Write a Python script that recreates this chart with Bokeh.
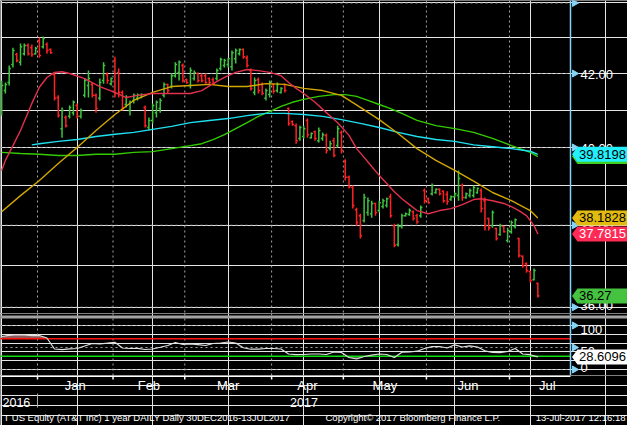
import numpy as np
from bokeh.plotting import figure
from bokeh.models import Range1d, Span, BoxAnnotation, ColumnDataSource
from bokeh.layouts import column
from bokeh.embed import file_html
from bokeh.resources import INLINE
from bokeh.core.properties import value

# ---------------- data (daily bars, index 0 = mid Dec 2016, 142 = 13 Jul 2017) ----------------
opens = [40.99, 41.53, 41.75, 42.25, 42.53, 42.31, 42.55, 42.78, 42.72, 42.55,
         42.92, 42.75, 42.81, 42.67, 41.97, 41.34, 40.50, 40.80, 40.83, 40.93,
         41.12, 40.83, 41.40, 41.67, 41.70, 41.40, 41.32, 41.81, 41.97, 41.72,
         42.36, 42.03, 41.48, 41.15, 40.99, 41.26, 41.32, 41.34, 41.07, 40.53,
         40.72, 40.93, 41.04, 41.40, 41.70, 41.64, 41.94, 42.03, 42.22, 41.83,
         41.67, 41.86, 42.00, 41.94, 41.94, 41.86, 41.83, 41.86, 42.14, 42.22,
         42.25, 42.19, 42.41, 42.55, 42.67, 42.44, 42.08, 41.48, 41.83, 41.70,
         41.32, 41.42, 41.70, 41.53, 41.48, 41.70, 41.04, 40.69, 40.58, 40.24,
         40.29, 40.72, 40.26, 40.42, 40.18, 40.24, 40.32, 39.97, 40.18, 40.05,
         40.40, 39.64, 39.22, 38.96, 38.39, 38.24, 38.12, 38.32, 38.29, 38.55,
         38.37, 38.47, 38.50, 38.72, 37.99, 37.52, 37.97, 38.24, 38.27, 38.34,
         38.24, 38.24, 38.88, 38.67, 38.80, 38.83, 38.91, 38.86, 38.78, 38.65,
         38.72, 38.75, 39.01, 38.70, 38.75, 38.75, 38.83, 38.88, 38.62, 38.17,
         37.99, 37.92, 37.77, 37.97, 37.62, 37.84, 37.97, 37.67, 37.23, 37.05,
         36.86, 36.66, 36.57]
highs = [41.81, 41.75, 42.22, 42.72, 42.58, 42.84, 42.84, 42.84, 42.81, 42.75,
         43.01, 43.04, 42.87, 42.70, 42.03, 41.40, 41.07, 40.85, 41.12, 41.26,
         41.18, 41.04, 41.86, 42.08, 41.75, 41.45, 41.86, 42.31, 42.03, 41.89,
         42.47, 42.14, 41.53, 41.40, 41.26, 41.45, 41.45, 41.45, 41.12, 40.80,
         41.18, 41.26, 41.32, 41.75, 41.72, 42.00, 42.31, 42.36, 42.28, 41.86,
         42.17, 42.08, 42.03, 42.00, 42.00, 41.89, 41.89, 42.14, 42.44, 42.41,
         42.44, 42.64, 42.70, 42.70, 42.70, 42.50, 42.14, 41.89, 41.89, 41.75,
         41.59, 41.81, 41.72, 41.75, 41.62, 41.72, 41.07, 40.72, 40.64, 40.58,
         40.58, 40.77, 40.40, 40.45, 40.53, 40.40, 40.37, 40.18, 40.26, 40.58,
         40.45, 39.69, 39.27, 39.01, 38.44, 38.29, 38.80, 38.70, 38.62, 38.57,
         38.62, 38.67, 38.70, 38.80, 38.04, 38.04, 38.29, 38.32, 38.42, 38.37,
         38.29, 38.50, 38.93, 38.70, 39.06, 38.93, 38.93, 38.88, 38.86, 38.75,
         38.83, 39.40, 39.06, 38.83, 38.93, 39.01, 38.96, 38.93, 38.70, 38.19,
         38.37, 37.94, 38.04, 37.99, 37.94, 38.12, 38.17, 37.69, 37.25, 37.08,
         36.88, 36.93, 36.59]
lows = [40.85, 41.45, 41.67, 42.17, 42.31, 42.22, 42.50, 42.50, 42.47, 42.53,
        42.44, 42.70, 42.55, 42.55, 41.26, 40.80, 40.26, 40.53, 40.77, 40.85,
        40.77, 40.77, 41.34, 41.34, 41.34, 40.93, 41.26, 41.72, 41.72, 41.67,
        41.34, 41.34, 40.99, 41.07, 40.85, 41.18, 41.26, 41.32, 40.53, 40.45,
        40.64, 40.80, 40.93, 41.34, 41.45, 41.59, 41.89, 41.81, 41.75, 41.72,
        41.59, 41.81, 41.75, 41.75, 41.72, 41.72, 41.70, 41.81, 42.08, 42.17,
        42.17, 42.08, 42.28, 42.50, 42.41, 42.17, 41.53, 41.40, 41.45, 41.40,
        41.26, 41.34, 41.45, 41.48, 41.45, 41.48, 40.58, 40.58, 40.10, 40.18,
        40.24, 40.26, 40.24, 40.18, 40.13, 40.18, 39.84, 39.92, 39.74, 40.00,
        39.84, 39.14, 38.93, 38.42, 37.99, 37.67, 38.07, 38.24, 38.19, 38.24,
        38.32, 38.42, 38.45, 38.19, 37.45, 37.47, 37.92, 38.22, 38.24, 38.12,
        38.04, 38.19, 38.55, 38.55, 38.75, 38.80, 38.75, 38.57, 38.52, 38.62,
        38.70, 38.62, 38.62, 38.67, 38.70, 38.70, 38.80, 38.32, 37.87, 37.87,
        37.94, 37.62, 37.74, 37.82, 37.57, 37.79, 37.92, 37.20, 36.95, 36.83,
        36.59, 36.64, 36.23]
closes = [41.67, 41.70, 42.14, 42.64, 42.36, 42.75, 42.78, 42.55, 42.53, 42.70,
          42.50, 42.98, 42.64, 42.58, 41.32, 40.85, 40.99, 40.58, 41.07, 41.21,
          40.83, 40.99, 41.81, 41.86, 41.40, 41.04, 41.75, 42.22, 41.81, 41.86,
          41.45, 41.48, 41.04, 41.34, 41.21, 41.40, 41.40, 41.42, 40.58, 40.72,
          41.12, 41.21, 41.26, 41.70, 41.53, 41.94, 42.25, 42.31, 41.81, 41.75,
          42.08, 42.03, 41.81, 41.81, 41.75, 41.75, 41.72, 42.08, 42.39, 42.36,
          42.41, 42.58, 42.64, 42.67, 42.47, 42.22, 41.59, 41.81, 41.53, 41.45,
          41.53, 41.75, 41.51, 41.70, 41.59, 41.53, 40.64, 40.61, 40.18, 40.53,
          40.50, 40.34, 40.37, 40.24, 40.45, 40.34, 39.92, 40.10, 39.79, 40.50,
          39.92, 39.22, 38.98, 38.50, 38.07, 37.74, 38.70, 38.62, 38.55, 38.32,
          38.57, 38.62, 38.67, 38.24, 37.50, 37.97, 38.24, 38.29, 38.37, 38.17,
          38.09, 38.45, 38.62, 38.57, 39.01, 38.91, 38.80, 38.62, 38.60, 38.72,
          38.80, 39.19, 38.70, 38.80, 38.88, 38.96, 38.93, 38.42, 37.99, 37.94,
          38.32, 37.67, 37.99, 37.84, 37.87, 38.07, 38.14, 37.25, 37.00, 36.88,
          36.64, 36.88, 36.27]

# moving averages
ma_red_x = [0, 1, 3, 5, 8, 10, 12, 14, 16, 18, 22, 26, 30, 33, 36, 40, 45, 50, 53, 56,
            59, 62, 65, 68, 71, 74, 76, 78, 80, 83, 86, 89, 92, 94, 96, 98, 100, 102, 104, 106,
            108, 110, 113, 116, 119, 122, 125, 127, 130, 133, 135, 137, 139, 141, 142]
ma_red = [39.40, 39.66, 40.05, 40.45, 41.18, 41.62, 41.89, 42.03, 42.05, 42.00,
          41.86, 41.64, 41.48, 41.34, 41.40, 41.45, 41.45, 41.45, 41.53, 41.72,
          41.89, 42.03, 42.11, 42.08, 42.03, 41.94, 41.75, 41.59, 41.45, 41.21,
          40.93, 40.66, 40.32, 39.97, 39.74, 39.50, 39.27, 39.06, 38.85, 38.67,
          38.52, 38.37, 38.29, 38.37, 38.42, 38.52, 38.65, 38.67, 38.62, 38.55,
          38.47, 38.37, 38.24, 37.99, 37.7815]
ma_gold_x = [0, 5, 10, 15, 20, 25, 30, 35, 40, 45, 50, 55, 60, 65, 70, 75, 80, 85, 90, 95,
             100, 105, 110, 115, 120, 125, 130, 135, 140, 142]
ma_gold = [38.34, 38.75, 39.14, 39.58, 40.00, 40.45, 40.88, 41.26, 41.48, 41.64,
           41.67, 41.70, 41.64, 41.64, 41.72, 41.70, 41.59, 41.53, 41.40, 41.07,
           40.74, 40.37, 39.97, 39.66, 39.40, 39.12, 38.83, 38.62, 38.37, 38.1828]
ma_cyan_x = [8, 10, 15, 20, 25, 30, 35, 40, 45, 50, 55, 60, 65, 70, 75, 80, 85, 90, 95, 100,
             105, 110, 115, 120, 125, 130, 135, 140, 142]
ma_cyan = [40.07, 40.10, 40.16, 40.21, 40.29, 40.35, 40.40, 40.48, 40.56, 40.66,
           40.72, 40.77, 40.85, 40.91, 40.91, 40.88, 40.83, 40.74, 40.64, 40.53,
           40.40, 40.29, 40.21, 40.16, 40.07, 40.02, 39.97, 39.90, 39.8198]
ma_green_x = [0, 5, 10, 15, 20, 25, 30, 35, 40, 45, 50, 53, 56, 59, 62, 65, 68, 71, 74, 77,
              80, 84, 88, 91, 94, 97, 100, 103, 106, 110, 115, 120, 125, 130, 135, 140, 142]
ma_green = [39.87, 39.84, 39.82, 39.79, 39.79, 39.82, 39.82, 39.87, 39.89, 39.97,
            40.05, 40.10, 40.21, 40.34, 40.50, 40.66, 40.83, 40.96, 41.10, 41.21,
            41.29, 41.37, 41.42, 41.42, 41.37, 41.26, 41.15, 41.04, 40.91, 40.72,
            40.58, 40.50, 40.40, 40.24, 40.05, 39.87, 39.76]

# RSI (every second session)
rsi_x = list(range(0, 143, 2))
rsi = [75.0, 77.7, 79.1, 78.4, 76.8, 77.3, 71.6, 46.6, 45.0, 46.8,
       47.7, 53.4, 59.1, 58.0, 59.8, 61.8, 48.9, 47.7, 48.2, 45.5,
       46.6, 50.5, 54.5, 61.4, 56.8, 58.0, 56.4, 54.5, 59.1, 60.2,
       62.5, 60.2, 49.5, 46.1, 46.4, 47.7, 47.7, 46.6, 35.2, 33.6,
       34.1, 35.2, 35.2, 34.1, 39.8, 38.6, 27.3, 23.9, 29.5, 32.5,
       35.2, 34.1, 27.3, 39.3, 39.8, 41.6, 47.7, 51.8, 52.3, 48.9,
       56.1, 51.1, 53.9, 51.1, 42.5, 38.6, 38.2, 40.9, 47.7, 35.2,
       33.6, 28.6096]

month_labels = ["Jan", "Feb", "Mar", "Apr", "May", "Jun", "Jul"]
month_starts = [9.5, 29.5, 48.5, 71.5, 90.5, 112.5, 134.5]
month_centers = [19.5, 39.0, 60.0, 81.0, 101.5, 123.5, 144.5]
year_labels = ["2016", "2017"]
price_ticks = [36.0, 38.0, 40.0, 42.0, 44.0]
price_labelled = [38.0, 40.0, 42.0]
rsi_ticks = [100, 50, 0]
rsi_levels = [70, 30]

footer_left = "T US Equity (AT&T Inc) 1 year DAILY  Daily 30DEC2016-13JUL2017"
footer_mid = "Copyright\u00a9 2017 Bloomberg Finance L.P."
footer_right = "13-Jul-2017 12:16:18"

# ---------------- styling / layout ----------------
FONT = "Liberation Sans"
BG = "black"
GRID = "#a4a4a4"
AX_BLUE = "#87d3f5"
BAR_UP, BAR_DN = "#3fc43f", "#ff2222"
C_RED, C_GOLD, C_CYAN, C_GREEN = "#e3304c", "#d2a600", "#1ee0f0", "#33cc00"

W = 627
H_PRICE, H_RSI, H_FOOT = 313, 62, 50
PX = 3.776
X_START = -1.13 / PX
AXIS_X = X_START + 570 / PX
X_END = X_START + W / PX
P_LO, P_HI = 35.851, 44.072
R_LO, R_HI = -13.636, 127.27


def px2x(px):
    return X_START + px / PX


TIP, BODY, TXT, FLAG, LAB = px2x(571.5), px2x(577), px2x(578.5), px2x(574), px2x(580)
xr = Range1d(X_START, X_END)


def base_fig(h, yr, **kw):
    return figure(width=W, height=h, x_range=xr, y_range=yr, x_axis_location=None,
                  y_axis_location=None, toolbar_location=None, output_backend="svg",
                  min_border=0, background_fill_color=BG, border_fill_color=BG,
                  outline_line_color=None, **kw)


def label(f, x, y, txt, size="13px", align="left", color="white", off=0):
    f.text(x=[x], y=[y], text=[txt], text_color=color, text_font=value(FONT),
           text_font_size=size, text_baseline="middle", text_align=align, y_offset=off)


def badge(f, y, top, bot, fill, txt=None, color="black"):
    f.patch(x=[TIP, BODY, X_END + 1, X_END + 1, BODY], y=[y, top, top, bot, bot],
            fill_color=fill, line_color=None)
    if txt:
        label(f, TXT, y, txt, color=color)


# ---------------- price panel ----------------
p = base_fig(H_PRICE, Range1d(P_LO, P_HI), y_axis_type="log")
for b in month_starts:
    p.add_layout(Span(location=b, dimension="height", line_color=GRID, line_dash="2 3",
                      line_width=1, level="underlay"))
p.segment(x0=[X_START] * len(price_ticks), x1=[AXIS_X] * len(price_ticks),
          y0=price_ticks, y1=price_ticks, line_color=GRID, line_dash="2 3", line_width=1)

o, h, l, c = map(np.array, (opens, highs, lows, closes))
idx = np.arange(len(c))
src = ColumnDataSource(dict(x=idx, xl=idx - 0.45, xr=idx + 0.45, o=o, h=h, l=l, c=c,
                            col=np.where(c >= o, BAR_UP, BAR_DN)))
p.segment(x0="x", x1="x", y0="l", y1="h", line_color="col", line_width=1.5, source=src)
p.segment(x0="xl", x1="x", y0="o", y1="o", line_color="col", line_width=1.5, source=src)
p.segment(x0="x", x1="xr", y0="c", y1="c", line_color="col", line_width=1.5, source=src)

p.line(ma_green_x, ma_green, line_color=C_GREEN, line_width=1.4)
p.line(ma_cyan_x, ma_cyan, line_color=C_CYAN, line_width=1.4)
p.line(ma_gold_x, ma_gold, line_color=C_GOLD, line_width=1.4)
p.line(ma_red_x, ma_red, line_color=C_RED, line_width=1.4)

p.add_layout(Span(location=AXIS_X, dimension="height", line_color=AX_BLUE, line_width=1.5))
p.scatter(x=[FLAG] * len(price_ticks), y=price_ticks, marker="triangle", size=7,
          angle=-np.pi / 2, fill_color=AX_BLUE, line_color=AX_BLUE)
for t in price_labelled:
    label(p, LAB, t, f"{t:.2f}", off=1)
label(p, LAB, price_ticks[0], f"{price_ticks[0]:.2f}", off=-1.5)

KY = H_PRICE / np.log(P_HI / P_LO)
fy = np.exp(7.5 / KY)
for val, fill, txt, tc in [(ma_green[-1], "#3fcf1f", None, "black"),
                           (ma_cyan[-1], "#22f0ff", f"{ma_cyan[-1]:.4f}", "black"),
                           (ma_gold[-1], "#e2bb10", f"{ma_gold[-1]:.4f}", "black"),
                           (ma_red[-1], "#ff2a55", f"{ma_red[-1]:.4f}", "white"),
                           (closes[-1], "#45c23f", f"{closes[-1]:.2f}", "black")]:
    badge(p, val, val * fy, val / fy, fill, txt, tc)

# ---------------- RSI panel ----------------
r = base_fig(H_RSI, Range1d(R_LO, R_HI))
for b in month_starts:
    r.add_layout(Span(location=b, dimension="height", line_color=GRID, line_dash="2 3",
                      line_width=1, level="underlay"))
r.segment(x0=[X_START] * 3, x1=[AXIS_X] * 3, y0=rsi_ticks, y1=rsi_ticks,
          line_color=GRID, line_dash="2 3", line_width=1)
rs = np.array(rsi)
r.varea(x=rsi_x, y1=[rsi_levels[0]] * len(rsi_x), y2=np.maximum(rs, rsi_levels[0]),
        fill_color="#8c5a5a")
r.varea(x=rsi_x, y1=np.minimum(rs, rsi_levels[1]), y2=[rsi_levels[1]] * len(rsi_x),
        fill_color="#4d7a4d")
r.segment(x0=[X_START] * 2, x1=[AXIS_X] * 2, y0=rsi_levels, y1=rsi_levels,
          line_color=["#ff1010", "#10dd10"], line_width=1.5)
r.line(rsi_x, rsi, line_color="#e0e0e0", line_width=1.2)

r.add_layout(Span(location=AXIS_X, dimension="height", line_color=AX_BLUE, line_width=1.5))
r.scatter(x=[FLAG] * 3, y=rsi_ticks, marker="triangle", size=7, angle=-np.pi / 2,
          fill_color=AX_BLUE, line_color=AX_BLUE)
for t, off in zip(rsi_ticks, [4, 4, -2]):
    label(r, LAB, t, str(t), off=off)
rh = 7.5 / 0.44
badge(r, rsi[-1], rsi[-1] + rh, rsi[-1] - rh, "#ffffff", f"{rsi[-1]:.4f}", "black")
r.add_layout(BoxAnnotation(top=R_HI - 2 / 0.44, bottom=R_HI - 5 / 0.44,
                           fill_color="#a3a3a3", fill_alpha=1.0, line_color=None))

# ---------------- time axis, year row, footer ----------------
f3 = base_fig(H_FOOT, Range1d(H_FOOT, 0))
f3.segment(x0=[X_START], x1=[AXIS_X], y0=[0.75], y1=[0.75], line_color="white", line_width=1.5)
f3.segment(x0=month_starts, x1=month_starts, y0=[0] * len(month_starts),
           y1=[4] * len(month_starts), line_color="white", line_width=1.5)
f3.text(x=month_centers, y=[10] * len(month_centers), text=month_labels, text_color="white",
        text_font=value(FONT), text_font_size="13px", text_baseline="middle", text_align="center")
label(f3, px2x(2), 26.7, year_labels[0], size="12.5px")
label(f3, (month_starts[0] + AXIS_X) / 2, 26.7, year_labels[1], size="12.5px", align="center")
f3.segment(x0=[month_starts[0]], x1=[month_starts[0]], y0=[18], y1=[32], line_color="#b0b0b0",
           line_width=1)
label(f3, px2x(3), 41.7, footer_left, size="9.5px")
label(f3, px2x(325), 41.7, footer_mid, size="9.5px")
label(f3, px2x(625), 41.7, footer_right, size="9.5px", align="right")

layout = column(p, r, f3, spacing=0)
open("out.html", "w").write(file_html(layout, INLINE))
